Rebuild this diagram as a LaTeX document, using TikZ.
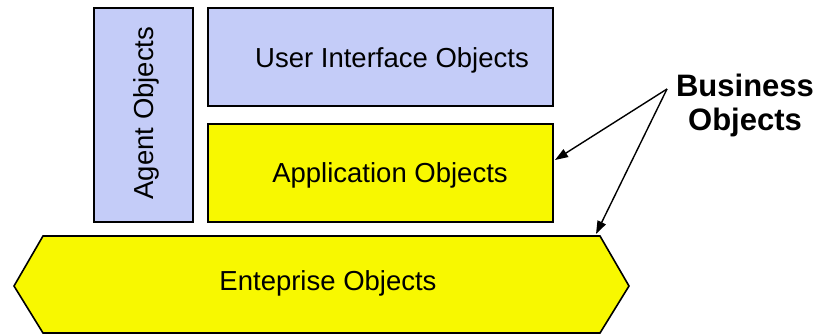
\documentclass[tikz,border=0pt]{standalone}
\usepackage{fontspec}
\setmainfont{Liberation Sans}
\usetikzlibrary{arrows.meta}
\definecolor{lblue}{HTML}{C4CCF8}
\definecolor{yel}{HTML}{F8F800}
\begin{document}
\begin{tikzpicture}[x=1pt,y=-1pt,
  box/.style={draw=black,line width=1.6pt},
  lbl/.style={font=\fontsize{27.5}{30}\selectfont,inner sep=0pt},
  arr/.style={line width=1.4pt,-{Triangle[length=13pt,width=9pt]}}]
\useasboundingbox (0,0) rectangle (817,335);
\filldraw[box,fill=lblue] (94,8) rectangle (193,222);
\filldraw[box,fill=lblue] (208,8) rectangle (553,106);
\filldraw[box,fill=yel] (208,124) rectangle (553,222);
\filldraw[box,fill=yel] (14,286) -- (43,236) -- (600,236) -- (629,286) -- (600,333) -- (43,333) -- cycle;
\node[lbl,rotate=90] (agent) at (146,113) {Agent Objects};
\node[lbl] (ui) at (392,60) {User Interface Objects};
\node[lbl] (app) at (390,175) {Application Objects};
\node[lbl] (ent) at (328,283) {Enteprise Objects};
\node[font=\fontsize{31}{34}\selectfont\bfseries,align=center,inner sep=0pt] (bo) at (745,105) {Business\\Objects};
\coordinate (apex) at (667,89);
\coordinate (t1) at (555,160);
\coordinate (t2) at (596,234);
\draw[arr] (apex) -- (t1);
\draw[arr] (apex) -- (t2);
\end{tikzpicture}
\end{document}
